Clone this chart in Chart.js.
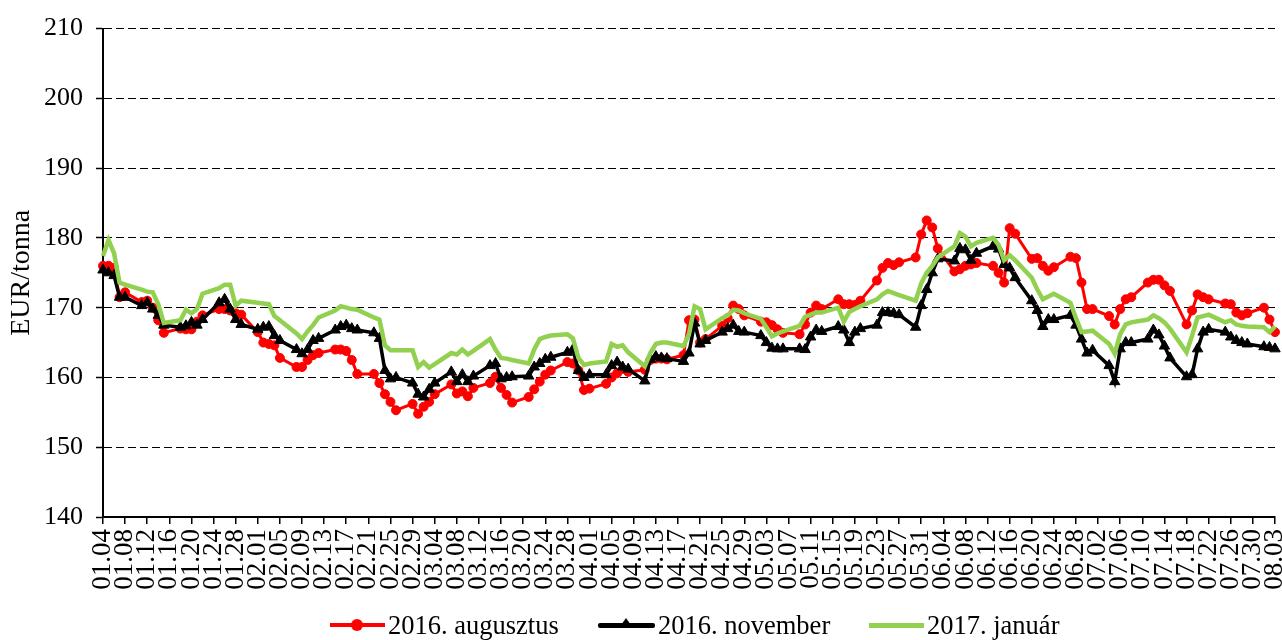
<!DOCTYPE html>
<html>
<head>
<meta charset="utf-8">
<script src="https://cdn.jsdelivr.net/npm/chart.js@4/dist/chart.umd.min.js"></script>
<style>
body { margin: 0; background: #fff; }
#wrap { position: relative; width: 1282px; height: 640px; overflow: hidden; }
.item { position: absolute; top: 611px; height: 28px; display: flex; align-items: center;
        font-family: 'Liberation Serif', 'Times New Roman', serif; font-size: 26.5px; line-height: 28px; white-space: nowrap; color: #000; }
.swatch { position: relative; width: 55px; height: 4px; margin-right: 3px; }
.dot { position: absolute; left: 21px; top: -4px; width: 12px; height: 12px; border-radius: 50%; background: #f00; }
.tri { position: absolute; left: 21px; top: -5px; width: 0; height: 0; border-left: 7px solid transparent; border-right: 7px solid transparent; border-bottom: 10px solid #000; }
</style>
</head>
<body>
<div id="wrap">
    <canvas id="chart" width="1282" height="640"></canvas>
    <div class="item" style="left:330px"><div class="swatch" style="background:#ff0000"><div class="dot"></div></div>2016. augusztus</div>
    <div class="item" style="left:598px"><div class="swatch" style="background:#000;height:5px;width:57px;border-radius:2px"><div class="tri"></div></div>2016. november</div>
    <div class="item" style="left:869px"><div class="swatch" style="background:#92d050;height:5px"></div>2017. január</div>
</div>
<script>
// calendar days from 2016-01-04 to 2016-08-03, label every 4th day
const dayLabels = [];
for (let i = 0; i <= 212; i++) {
    const d = new Date(2016, 0, 4 + i);
    dayLabels.push(String(d.getMonth() + 1).padStart(2, '0') + '.' + String(d.getDate()).padStart(2, '0'));
}
// trading days (Mon-Fri) as calendar index
const tradingDays = [];
for (let i = 0; i <= 212; i++) {
    const wd = new Date(2016, 0, 4 + i).getDay();
    if (wd !== 0 && wd !== 6) tradingDays.push(i);
}

// one row per week
const augData = [
    176, 176, 175.7, 171.5, 172.2,
    170.8, 171, 170, 168.2, 166.4,
    167, 166.9, 166.9, 168, 168.9,
    169.8, 169.8, 169.6, 169.2, 169,
    166.5, 165, 164.8, 164.6, 162.8,
    161.5, 161.5, 162.5, 163.2, 163.5,
    164, 164, 163.8, 162.5, 160.5,
    160.5, 159.2, 157.6, 156.5, 155.3,
    156.2, 154.8, 155.8, 156.5, 157.6,
    159, 157.7, 158, 157.3, 158.5,
    159.2, 160.1, 158.5, 157.5, 156.4,
    157.2, 158.3, 159.4, 160.4, 161,
    162.2, 162, 161, 158.2, 158.4,
    159.1, 160, 160.6, 161.2, 160.8,
    161.1, 162.5, 162.7, 162.7, 162.6,
    163.2, 168.2, 168.3, 165, 165.5,
    167.4, 168.5, 170.3, 169.8, 168.9,
    168, 167.9, 167.5, 166.9, 166.4,
    166.2, 167.6, 169.3, 170.3, 169.8,
    171.2, 170.5, 170.5, 170.4, 171,
    173.9, 175.7, 176.4, 176.1, 176.5,
    177.2, 180.5, 182.5, 181.5, 178.5,
    175.2, 175.5, 176, 176.2, 176.4,
    176, 175, 173.6, 181.4, 180.6,
    177, 177.1, 176, 175.3, 175.8,
    177.3, 177.1, 173.6, 169.8, 169.8,
    168.8, 167.6, 169.8, 171.2, 171.5,
    173.6, 174, 174, 173.2, 172.4,
    167.6, 169.6, 171.9, 171.5, 171.2,
    170.6, 170.5, 169.3, 168.9, 169.2,
    170, 168.3, 166.5
];
const novData = [
    175.4, 175, 174.6, 171.5, 171.5,
    170.3, 170.7, 169.8, 168.9, 167.5,
    167.2, 167.4, 167.9, 167.5, 168.3,
    170.7, 171.2, 169.8, 168.3, 167.6,
    166.9, 167.2, 167.3, 166, 165.3,
    164, 163.4, 164, 165.3, 165.6,
    166.8, 167.3, 167.5, 167, 166.8,
    166.4, 165.6, 161, 159.8, 160,
    159.2, 157.6, 157.2, 158.3, 159.2,
    160.8, 159.4, 160.4, 159.4, 160.2,
    161.7, 162, 159.8, 160, 160.1,
    160.2, 161.5, 162, 162.6, 162.9,
    163.6, 164, 161, 160, 160.4,
    160.4, 161.7, 162.2, 161.5, 161.2,
    159.5, 162.6, 163, 162.8, 162.7,
    162.3, 163.5, 167.8, 164.8, 165.3,
    166.5, 167, 167.5, 166.6, 166.5,
    166, 165, 164.2, 164.1, 164.1,
    164.1, 164, 165.8, 166.8, 166.6,
    167.3, 166.8, 165, 166.5, 167,
    167.5, 169.3, 169.3, 169.2, 169,
    167.2, 170.3, 172.6, 175, 177,
    176.7, 178.5, 178.3, 176.8, 177.8,
    178.8, 178.4, 176.2, 175.7, 174.3,
    171, 169.6, 167.3, 168.3, 168.3,
    168.9, 167.5, 165.5, 163.5, 163.9,
    161.7, 159.4, 164.1, 165, 165,
    165.5, 166.8, 166.1, 164.5, 162.8,
    160.1, 160.4, 164.1, 166.5, 166.9,
    166.5, 165.8, 165.3, 165, 164.8,
    164.4, 164.3, 164.1
];
const janData = [
    177.4, 179.7, 177.8, 173.6, 173.3,
    172.6, 172.3, 172.2, 170.5, 167.8,
    168.2, 169.7, 169.2, 169.8, 172,
    172.8, 173.3, 173.3, 170.3, 171,
    170.7, 170.6, 170.5, 168.8, 168.2,
    166.3, 165.5, 166.6, 167.5, 168.6,
    169.6, 170.2, 170, 169.8, 169.7,
    168.6, 168.3, 164.6, 163.9, 163.9,
    163.9, 161.5, 162.2, 161.4, 161.9,
    163.5, 163.3, 164, 163.3, 163.8,
    165.5, 164, 162.8, 162.7, 162.5,
    162, 164, 165.5, 165.8, 166,
    166.2, 165.6, 162.8, 161.8, 162,
    162.3, 164.8, 164.4, 164.6, 163.6,
    161.6, 163.5, 164.8, 165, 165,
    164.5, 166.2, 170.2, 169.8, 166.9,
    168.5, 168.9, 169.7, 169.6, 169.2,
    168.4, 167.2, 165.9, 166.3, 166.6,
    167.4, 168.7, 169, 169.3, 169.3,
    170, 168, 169.4, 169.8, 170.2,
    171.2, 171.9, 172.4, 172.1, 171.8,
    171, 173.5, 175, 176, 177.2,
    178.8, 180.7, 180.2, 178.8, 179.3,
    180, 179, 176.8, 177.5, 176.8,
    174.3, 172.6, 171.2, 171.6, 172,
    170.7, 168.5, 166.5, 166.6, 166.7,
    164.8, 163.4, 166.2, 167.6, 167.9,
    168.3, 168.9, 168.5, 167.9, 167,
    163.6, 166, 168.6, 168.8, 169,
    167.9, 168.2, 167.6, 167.4, 167.3,
    167.2, 166.5, 167.3
];
const seriesNames = ['2016. augusztus', '2016. november', '2017. január'];

function toPoints(values) {
    return values.map((v, i) => ({ x: tradingDays[i], y: v }));
}

Chart.defaults.font.family = "'Liberation Serif', 'Times New Roman', serif";
Chart.defaults.color = '#000';

new Chart(document.getElementById('chart'), {
    type: 'line',
    data: {
        datasets: [
            {
                label: seriesNames[0],
                data: toPoints(augData),
                borderColor: '#ff0000',
                backgroundColor: '#ff0000',
                borderWidth: 3,
                pointStyle: 'circle',
                pointRadius: 4.5,
                pointBorderWidth: 1,
                pointBackgroundColor: '#ff0000',
                pointBorderColor: '#ff0000',
                tension: 0,
                order: 2,
                clip: 8
            },
            {
                label: seriesNames[1],
                data: toPoints(novData),
                borderColor: '#000',
                backgroundColor: '#000',
                borderWidth: 3.5,
                pointStyle: 'triangle',
                pointRadius: 6,
                pointBorderWidth: 1,
                pointBackgroundColor: '#000',
                pointBorderColor: '#000',
                tension: 0,
                order: 1,
                clip: 8
            },
            {
                label: seriesNames[2],
                data: toPoints(janData),
                borderColor: '#92d050',
                backgroundColor: '#92d050',
                borderWidth: 4.5,
                pointRadius: 0,
                tension: 0,
                order: 0,
                clip: 8
            }
        ]
    },
    options: {
        responsive: false,
        animation: false,
        events: [],
        layout: { padding: { top: 23, right: 2, bottom: 35, left: 0 } },
        plugins: {
            legend: { display: false },
            tooltip: { enabled: false }
        },
        scales: {
            x: {
                type: 'linear',
                min: 0,
                max: 212,
                ticks: {
                    stepSize: 4,
                    autoSkip: false,
                    maxRotation: 90,
                    minRotation: 90,
                    padding: 5,
                    font: { size: 27 },
                    callback: function(value) {
                        return dayLabels[value];
                    }
                },
                grid: { drawOnChartArea: false, drawTicks: true, tickLength: 7, color: '#000', lineWidth: 1.5 },
                border: { display: true, color: '#000', width: 2 },
                afterFit: function(scale) {
                    scale.height = 88;
                    scale.paddingLeft = 0;
                    scale.paddingRight = 0;
                }
            },
            y: {
                min: 140,
                max: 210,
                ticks: { stepSize: 10, padding: 13, font: { size: 26 } },
                grid: { color: '#000', lineWidth: 1, tickLength: 7, tickWidth: 1.5 },
                border: { display: true, color: '#000', width: 2, dash: [8, 4] },
                title: {
                    display: true,
                    text: 'EUR/tonna',
                    font: { size: 28 },
                    padding: { top: 5, bottom: 0 }
                },
                afterFit: function(scale) {
                    scale.width = 103;
                }
            }
        }
    }
});
</script>
</body>
</html>
